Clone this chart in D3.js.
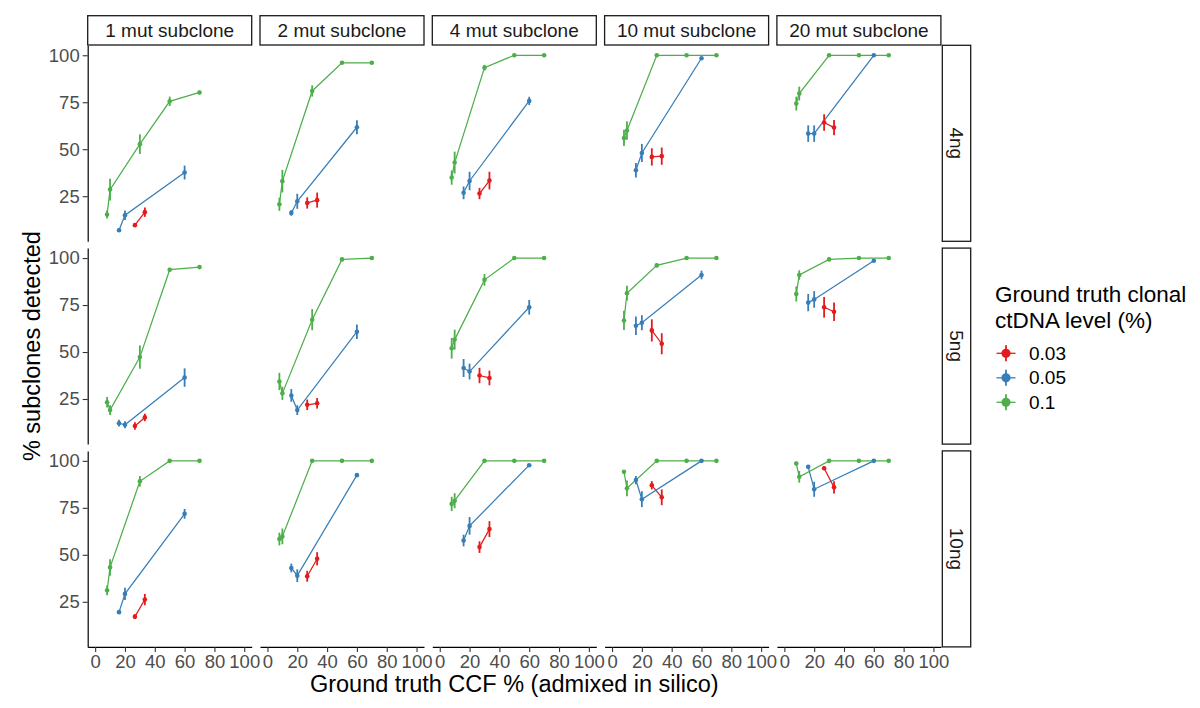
<!DOCTYPE html>
<html>
<head>
  <meta charset="UTF-8">
  <style>
    body { margin: 0; background: #fff; }
    text { font-family: "Liberation Sans", Arial, Helvetica, sans-serif; }
  </style>
</head>
<body>
<div id="chart_div"></div>
<script src="https://d3js.org/d3.v7.min.js"></script>
<script>

// facet labels
const subclones = ["1 mut subclone", "2 mut subclone", "4 mut subclone", "10 mut subclone", "20 mut subclone"];
const amounts = ["4ng", "5ng", "10ng"];
const levels = ["0.03", "0.05", "0.1"];
const levelColors = ["#E41A1C", "#377EB8", "#4DAF4A"];
const xTicks = [0, 20, 40, 60, 80, 100];
const yTicks = [25, 50, 75, 100];

// ground truth CCF % for each clonal level
const ccf003 = [26.67, 33.33];
const ccf005 = [16, 20, 60];
const ccf01 = [8, 10, 30, 50, 70];

// % subclones detected, one entry per panel: 4ng (5 subclones), 5ng, 10ng
const det003 = [
  [9.6, 16.5], [21.4, 22.9], [26.4, 33.3], [45.9, 46.3], [64.2, 61.5],
  [10.6, 15.2], [21.9, 22.7], [37.5, 36.2], [61.5, 54.4], [73.8, 71.4],
  [17.1, 26.2], [38.6, 47.9], [54.1, 63.7], [87.0, 80.6], [96.1, 85.9]
];
const err003 = [
  [1, 2.5], [3, 4], [3, 4.7], [4.6, 4.6], [4.4, 4],
  [2, 2], [2.8, 2.8], [4.1, 3.9], [5.9, 5.6], [5.5, 4.9],
  [1.3, 3], [2.9, 3.5], [3.1, 4.2], [2.2, 4.2], [1, 3.3]
];
const det005 = [
  [6.9, 14.9, 37.6], [16.1, 22.3, 61.7], [26.8, 33.1, 75.7], [38.8, 48.0, 98.4], [58.3, 58.3, 100],
  [12.1, 11.3, 36.4], [26.9, 19.1, 60.8], [41.5, 39.6, 73.8], [64.0, 65.6, 91.0], [76.3, 78.0, 98.6],
  [19.5, 29.2, 71.8], [43.0, 38.9, 92.4], [57.6, 65.4, 97.7], [89.8, 79.6, 100], [96.8, 84.9, 100]
];
const err005 = [
  [1, 2.5, 3.7], [1.5, 4, 3.7], [3.4, 4.9, 2.2], [3.9, 4.8, 0.5], [4.4, 4.4, 0],
  [1.8, 1.8, 4.9], [3.4, 2.6, 3.9], [4.8, 4.2, 3.9], [4.9, 4, 2.3], [4.6, 4.4, 0.5],
  [1, 3.3, 2.6], [2.3, 3.4, 0.5], [3.1, 4.7, 0.5], [2.2, 4.2, 0], [1, 4, 0]
];
const det01 = [
  [15.3, 28.5, 52.7, 75.5, 80.2], [20.7, 33.0, 81.0, 96.0, 96.0], [34.9, 42.9, 93.4, 100, 100], [56.0, 60.0, 100, 100, 100], [74.3, 79.6, 100, 100, 100],
  [23.3, 19.1, 47.3, 93.8, 95.2], [34.3, 28.0, 67.2, 99.3, 100], [52.0, 56.6, 88.4, 100, 100], [66.8, 81.3, 96.1, 100, 100], [80.9, 91.0, 99.3, 100, 100],
  [31.1, 43.3, 89.1, 100, 100], [58.4, 59.8, 100, 100, 100], [77.1, 78.8, 100, 100, 100], [94.2, 85.4, 100, 100, 100], [98.6, 91.5, 100, 100, 100]
];
const err01 = [
  [2.2, 5.8, 5.2, 2.5, 1], [3.5, 6, 3, 0.6, 0.6], [3.8, 5.8, 1.5, 0, 0], [4.3, 4.9, 0, 0, 0], [3.7, 3.7, 0, 0, 0],
  [2.8, 2.6, 6.2, 1, 0.5], [4.6, 3.5, 5.6, 0.5, 0], [5.5, 5.3, 3.1, 0, 0], [5.1, 4, 1, 0, 0], [4, 2.5, 0.5, 0, 0],
  [2.6, 4.4, 2.8, 0, 0], [3.4, 4.2, 0, 0, 0], [3.8, 4, 0, 0, 0], [1, 4.2, 0, 0, 0], [1, 3.1, 0, 0, 0]
];

const ccfByLevel = [ccf003, ccf005, ccf01];
const detByLevel = [det003, det005, det01];
const errByLevel = [err003, err005, err01];

let width = 1200, height = 708;

// panel layout
const colX0 = 87.7, colStep = 172.3, panelW = 164;
const rowY0 = 45.3, rowStep = 202.8, panelH = 196;

let svg = d3.select("#chart_div")
    .append("svg")
    .attr("width", width)
    .attr("height", height)
    .attr("viewBox", "0 0 " + width + " " + height);

let x = d3.scaleLinear().domain([-5, 105]).range([0, panelW]);
let y = d3.scaleLinear().domain([1, 105.3]).range([panelH, 0]);
let color = d3.scaleOrdinal().domain(levels).range(levelColors);

let line = d3.line()
    .x(d => x(d.ccf))
    .y(d => y(d.det));

amounts.forEach((amt, r) => {
  subclones.forEach((sub, c) => {
    let p = r * subclones.length + c;
    let g = svg.append("g")
        .attr("transform", "translate(" + (colX0 + c * colStep) + "," + (rowY0 + r * rowStep) + ")");

    // build series for this panel
    let series = levels.map((lev, i) => ({
      level: lev,
      values: ccfByLevel[i].map((v, j) => ({
        ccf: v,
        det: detByLevel[i][p][j],
        lo: detByLevel[i][p][j] - errByLevel[i][p][j],
        hi: Math.min(100, detByLevel[i][p][j] + errByLevel[i][p][j])
      }))
    }));

    // lines
    g.selectAll(".series")
      .data(series)
      .enter()
        .append("path")
        .attr("d", d => line(d.values))
        .attr("fill", "none")
        .attr("stroke", d => color(d.level))
        .attr("stroke-width", 1.25);

    // point ranges
    series.forEach(s => {
      let pr = g.append("g");
      pr.selectAll("line")
        .data(s.values)
        .enter()
          .append("line")
          .attr("x1", d => x(d.ccf))
          .attr("x2", d => x(d.ccf))
          .attr("y1", d => y(d.lo))
          .attr("y2", d => y(d.hi))
          .attr("stroke", color(s.level))
          .attr("stroke-width", 1.8);
      pr.selectAll("circle")
        .data(s.values)
        .enter()
          .append("circle")
          .attr("cx", d => x(d.ccf))
          .attr("cy", d => y(d.det))
          .attr("r", 2.3)
          .attr("fill", color(s.level));
    });

    // y axis on first column
    if (c === 0) {
      let ay = g.append("g")
          .call(d3.axisLeft(y).tickValues(yTicks).tickSize(5).tickPadding(3).tickSizeOuter(0));
      styleAxis(ay);
    }
    // x axis on bottom row
    if (r === amounts.length - 1) {
      let ax = g.append("g")
          .attr("transform", "translate(0," + panelH + ")")
          .call(d3.axisBottom(x).tickValues(xTicks).tickSize(5).tickPadding(3).tickSizeOuter(0));
      styleAxis(ax);
    }

    // top strips
    if (r === 0) {
      let st = svg.append("g")
          .attr("transform", "translate(" + (colX0 + c * colStep) + ",15.7)");
      st.append("rect")
        .attr("width", panelW)
        .attr("height", 29.3)
        .attr("fill", "white")
        .attr("stroke", "#1a1a1a")
        .attr("stroke-width", 1.3);
      st.append("text")
        .attr("x", panelW / 2)
        .attr("y", 15)
        .attr("dy", "0.35em")
        .attr("text-anchor", "middle")
        .style("font-size", "19px")
        .attr("fill", "#1a1a1a")
        .text(sub);
    }
  });

  // right strips
  let rs = svg.append("g")
      .attr("transform", "translate(942.3," + (rowY0 + r * rowStep) + ")");
  rs.append("rect")
    .attr("width", 28.4)
    .attr("height", panelH)
    .attr("fill", "white")
    .attr("stroke", "#1a1a1a")
    .attr("stroke-width", 1.3);
  rs.append("text")
    .attr("transform", "translate(14.2," + (panelH / 2) + ") rotate(90)")
    .attr("dy", "0.35em")
    .attr("text-anchor", "middle")
    .style("font-size", "19px")
    .attr("fill", "#1a1a1a")
    .text(amt);
});

function styleAxis(a) {
  a.attr("font-family", null).attr("font-size", null);
  a.select(".domain").attr("stroke", "black").attr("stroke-width", 1.2);
  a.selectAll(".tick line").attr("stroke", "#333333").attr("stroke-width", 1.1);
  a.selectAll(".tick text").attr("fill", "#4D4D4D").style("font-size", "18.5px");
}

// axis titles
svg.append("text")
  .attr("x", colX0 + (4 * colStep + panelW) / 2)
  .attr("y", 692)
  .attr("text-anchor", "middle")
  .style("font-size", "23.5px")
  .text("Ground truth CCF % (admixed in silico)");

svg.append("text")
  .attr("transform", "translate(40," + (rowY0 + (2 * rowStep + panelH) / 2) + ") rotate(-90)")
  .attr("text-anchor", "middle")
  .style("font-size", "23.5px")
  .text("% subclones detected");

// legend
let legend = svg.append("g").attr("transform", "translate(995,0)");
legend.append("text")
  .attr("y", 301.7)
  .style("font-size", "22.5px")
  .text("Ground truth clonal");
legend.append("text")
  .attr("y", 328)
  .style("font-size", "22.5px")
  .text("ctDNA level (%)");

let keys = legend.selectAll(".key")
  .data(levels)
  .enter()
    .append("g")
    .attr("transform", (d, i) => "translate(11," + (353.3 + i * 24.5) + ")");
keys.append("line")
  .attr("x1", -9.5).attr("x2", 9.5)
  .attr("stroke", d => color(d)).attr("stroke-width", 1.3);
keys.append("line")
  .attr("y1", -8).attr("y2", 8)
  .attr("stroke", d => color(d)).attr("stroke-width", 1.8);
keys.append("circle")
  .attr("r", 4.6)
  .attr("fill", d => color(d));
keys.append("text")
  .attr("x", 23)
  .attr("dy", "0.35em")
  .style("font-size", "19px")
  .text(d => d);

</script>
</body>
</html>
